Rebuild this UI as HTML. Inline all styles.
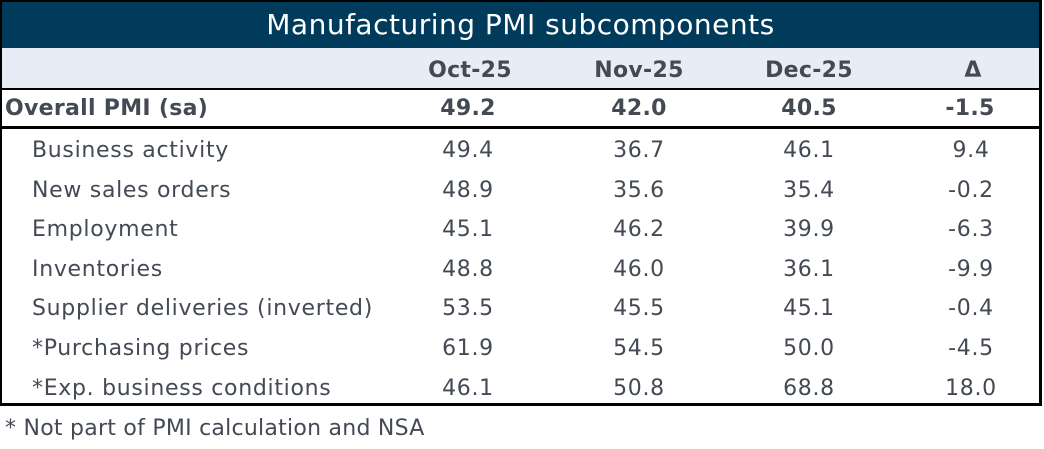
<!DOCTYPE html>
<html><head><meta charset="utf-8"><style>
html,body{margin:0;padding:0;background:#fff;}
body{width:1044px;height:449px;position:relative;overflow:hidden;font-family:"DejaVu Sans","Liberation Sans",sans-serif;color:#444a54;}
.a{position:absolute;white-space:nowrap;}
.t{font-size:22px;line-height:30px;letter-spacing:0.7px;}
.c{text-align:center;width:120px;}
.b{font-weight:bold;letter-spacing:0.3px;}
</style></head><body>
<!-- outer box -->
<div class="a" style="left:0;top:0;width:1042px;height:406px;background:#000;"></div>
<div class="a" style="left:2px;top:2px;width:1037px;height:401px;background:#fff;"></div>
<!-- title band -->
<div class="a" style="left:2px;top:2px;width:1037px;height:46px;background:#003b5c;"></div>
<div class="a" style="left:2px;top:8px;width:1037px;text-align:center;color:#fff;font-size:28px;line-height:34px;letter-spacing:0.5px;">Manufacturing PMI subcomponents</div>
<!-- header band -->
<div class="a" style="left:2px;top:48px;width:1037px;height:40px;background:#e8ecf4;"></div>
<div class="a" style="left:0;top:88px;width:1042px;height:2px;background:#000;"></div>
<div class="a" style="left:0;top:126px;width:1042px;height:3px;background:#000;"></div>

<div class="a t b c" style="left:410px;top:56px;">Oct-25</div>
<div class="a t b c" style="left:579px;top:56px;">Nov-25</div>
<div class="a t b c" style="left:749px;top:56px;">Dec-25</div>
<div class="a t b c" style="left:913px;top:56px;">Δ</div>

<div class="a t b" style="left:5px;top:94px;">Overall PMI (sa)</div>
<div class="a t b c" style="left:408px;top:94px;">49.2</div>
<div class="a t b c" style="left:579px;top:94px;">42.0</div>
<div class="a t b c" style="left:749px;top:94px;">40.5</div>
<div class="a t b c" style="left:910px;top:94px;">-1.5</div>

<div class="a t" style="left:32px;top:136px;">Business activity</div>
<div class="a t c" style="left:408px;top:136px;">49.4</div>
<div class="a t c" style="left:579px;top:136px;">36.7</div>
<div class="a t c" style="left:749px;top:136px;">46.1</div>
<div class="a t c" style="left:911px;top:136px;">9.4</div>

<div class="a t" style="left:32px;top:175.6px;">New sales orders</div>
<div class="a t c" style="left:408px;top:175.6px;">48.9</div>
<div class="a t c" style="left:579px;top:175.6px;">35.6</div>
<div class="a t c" style="left:749px;top:175.6px;">35.4</div>
<div class="a t c" style="left:911px;top:175.6px;">-0.2</div>

<div class="a t" style="left:32px;top:215.2px;">Employment</div>
<div class="a t c" style="left:408px;top:215.2px;">45.1</div>
<div class="a t c" style="left:579px;top:215.2px;">46.2</div>
<div class="a t c" style="left:749px;top:215.2px;">39.9</div>
<div class="a t c" style="left:911px;top:215.2px;">-6.3</div>

<div class="a t" style="left:32px;top:254.8px;">Inventories</div>
<div class="a t c" style="left:408px;top:254.8px;">48.8</div>
<div class="a t c" style="left:579px;top:254.8px;">46.0</div>
<div class="a t c" style="left:749px;top:254.8px;">36.1</div>
<div class="a t c" style="left:911px;top:254.8px;">-9.9</div>

<div class="a t" style="left:32px;top:294.4px;">Supplier deliveries (inverted)</div>
<div class="a t c" style="left:408px;top:294.4px;">53.5</div>
<div class="a t c" style="left:579px;top:294.4px;">45.5</div>
<div class="a t c" style="left:749px;top:294.4px;">45.1</div>
<div class="a t c" style="left:911px;top:294.4px;">-0.4</div>

<div class="a t" style="left:32px;top:334px;">*Purchasing prices</div>
<div class="a t c" style="left:408px;top:334px;">61.9</div>
<div class="a t c" style="left:579px;top:334px;">54.5</div>
<div class="a t c" style="left:749px;top:334px;">50.0</div>
<div class="a t c" style="left:911px;top:334px;">-4.5</div>

<div class="a t" style="left:32px;top:373.6px;">*Exp. business conditions</div>
<div class="a t c" style="left:408px;top:373.6px;">46.1</div>
<div class="a t c" style="left:579px;top:373.6px;">50.8</div>
<div class="a t c" style="left:749px;top:373.6px;">68.8</div>
<div class="a t c" style="left:911px;top:373.6px;">18.0</div>

<div class="a t" style="left:5px;top:414px;letter-spacing:0.25px;">* Not part of PMI calculation and NSA</div>
</body></html>
